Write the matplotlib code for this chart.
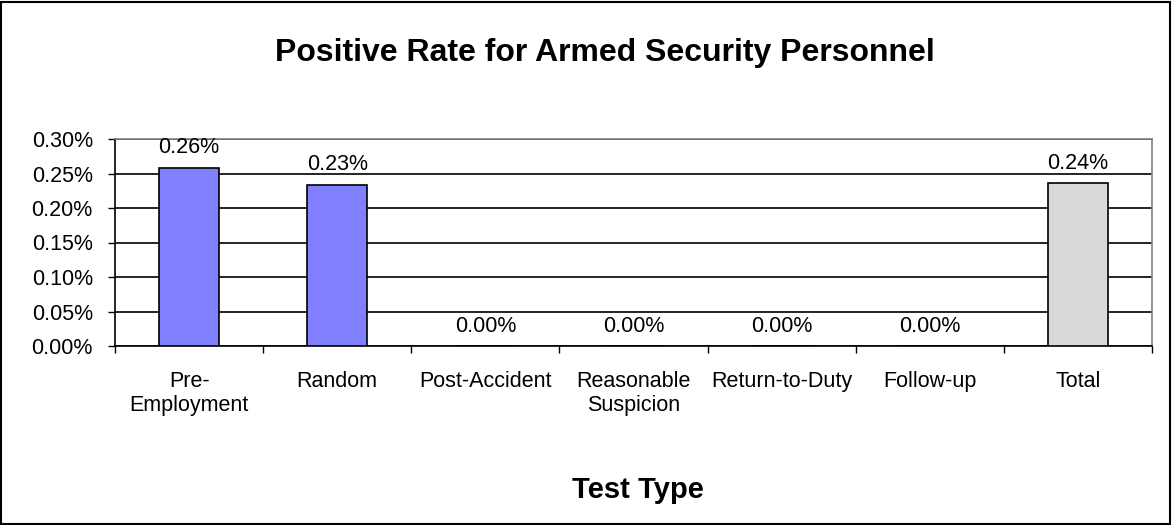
import matplotlib.pyplot as plt
from matplotlib.ticker import PercentFormatter, FixedLocator
from matplotlib.patches import Rectangle

plt.rcParams['font.family'] = ['Liberation Sans', 'DejaVu Sans']

categories = ['Pre-\nEmployment', 'Random', 'Post-Accident', 'Reasonable\nSuspicion',
              'Return-to-Duty', 'Follow-up', 'Total']
rates = [0.00258, 0.00234, 0.0, 0.0, 0.0, 0.0, 0.00236]
colors = ['#8080ff', '#8080ff', '#8080ff', '#8080ff', '#8080ff', '#8080ff', '#d9d9d9']

fs = 15.5

fig = plt.figure(figsize=(11.72, 5.25), dpi=100)
ax = fig.add_axes([115 / 1172, 1 - 346 / 525, (1152 - 115) / 1172, (346 - 139) / 525])

x = list(range(len(categories)))
ax.bar(x, rates, width=0.405, color=colors, edgecolor='black', linewidth=1.2, zorder=3)

for xi, v in zip(x, rates):
    ax.annotate('%.2f%%' % (v * 100), (xi, v), xytext=(0, 20), textcoords='offset pixels',
                ha='center', va='center', fontsize=fs, zorder=4)

ax.set_xlim(-0.5, len(categories) - 0.5)
ax.set_ylim(0, 0.003)
ax.set_yticks([0, 0.0005, 0.001, 0.0015, 0.002, 0.0025, 0.003])
ax.yaxis.set_major_formatter(PercentFormatter(xmax=1, decimals=2))
ax.yaxis.grid(True, color='black', linewidth=1.2, zorder=0)
ax.tick_params(axis='y', labelsize=fs, length=5, direction='out', width=1, pad=11)

ax.xaxis.set_major_locator(FixedLocator([i - 0.5 for i in range(len(categories) + 1)]))
ax.xaxis.set_minor_locator(FixedLocator(x))
ax.set_xticklabels([], minor=False)
ax.set_xticklabels(categories, minor=True)
ax.tick_params(axis='x', which='major', length=5, width=1, direction='out')
ax.tick_params(axis='x', which='minor', length=0, labelsize=fs, pad=18)

for s in ['top', 'right']:
    ax.spines[s].set_color('#808080')
    ax.spines[s].set_linewidth(1.2)
for s in ['left', 'bottom']:
    ax.spines[s].set_color('black')
    ax.spines[s].set_linewidth(1.2)

fig.text(605 / 1172, 1 - 53 / 525, 'Positive Rate for Armed Security Personnel',
         ha='center', va='center', fontsize=23, fontweight='bold')
fig.text(638 / 1172, 1 - 490 / 525, 'Test Type', ha='center', va='center',
         fontsize=21, fontweight='bold')

fig.patches.append(Rectangle((0.001, 0.002), 0.997, 0.995, transform=fig.transFigure,
                             fill=False, edgecolor='black', linewidth=1.5))

fig.savefig('out.png', dpi=100)
